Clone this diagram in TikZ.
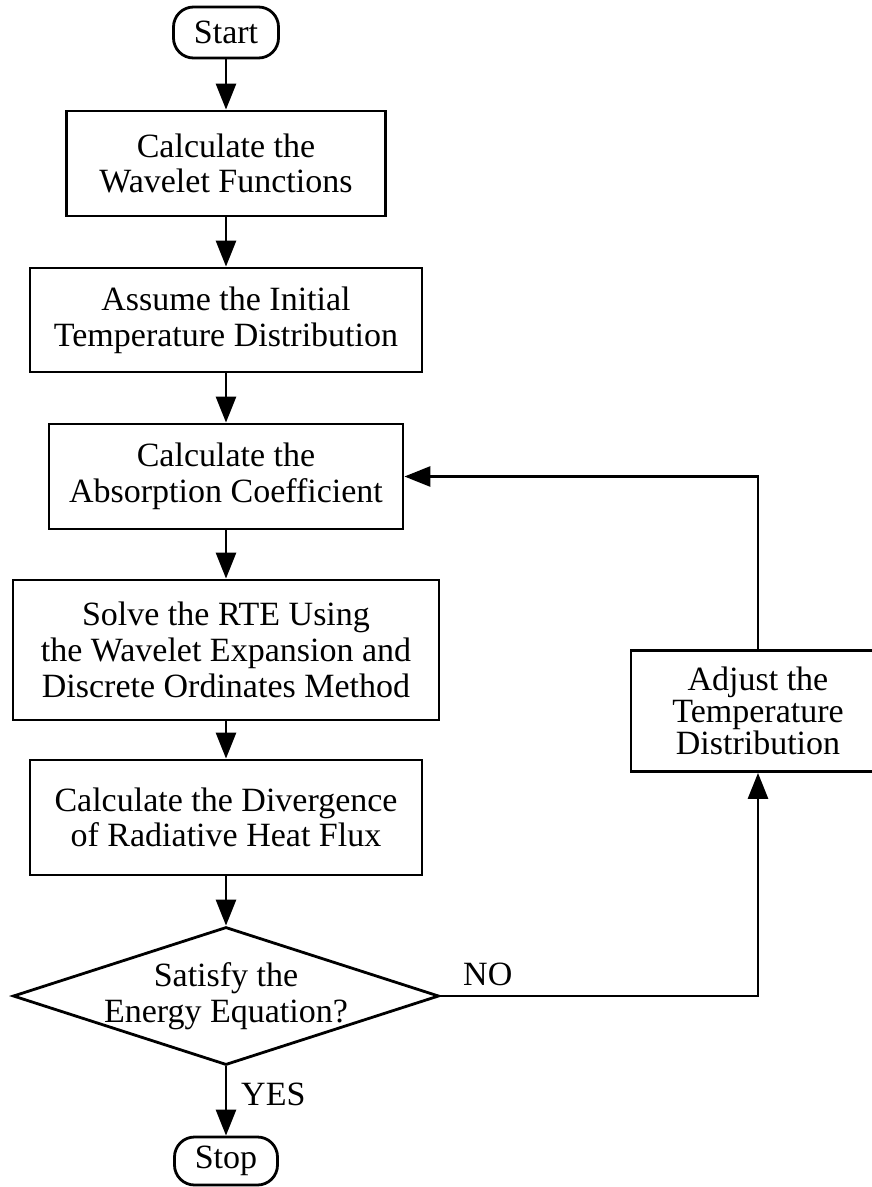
\documentclass[tikz,border=0pt]{standalone}
\usepackage{fontspec}
\setmainfont{Liberation Serif}
\usetikzlibrary{arrows.meta,shapes.geometric}
\begin{document}
\begin{tikzpicture}[x=1pt,y=-1pt,
  every node/.style={font=\fontsize{34}{35.7}\selectfont, align=center, inner sep=0pt},
  box/.style={draw, line width=2.8pt, rectangle},
  term/.style={draw, line width=2.8pt, rounded corners=20pt},
  decision/.style={draw, line width=2.8pt, diamond, aspect=3.087, inner sep=-30pt},
  flow/.style={line width=2.8pt, -{Triangle[length=26pt,width=20pt]}},
  lbl/.style={anchor=west}
]
\useasboundingbox (0,0) rectangle (872,1187);
\clip (0,0) rectangle (872,1187);

\node[term, minimum width=105pt, minimum height=51pt] (start) at (226,32.5) {Start};
\node[box, minimum width=319pt, minimum height=105pt] (b1) at (226,163.5) {Calculate the\\Wavelet Functions};
\node[box, minimum width=392pt, minimum height=104pt] (b2) at (226,320) {Assume the Initial\\Temperature Distribution};
\node[box, minimum width=354pt, minimum height=105pt] (b3) at (226,476.5) {Calculate the\\Absorption Coefficient};
\node[box, minimum width=426pt, minimum height=140pt] (b4) at (226,650) {Solve the RTE Using\\the Wavelet Expansion and\\Discrete Ordinates Method};
\node[box, minimum width=392pt, minimum height=115pt] (b5) at (226,817.5) {Calculate the Divergence\\of Radiative Heat Flux};
\node[decision, minimum width=426pt, minimum height=138pt] (dia) at (226,996) {Satisfy the\\Energy Equation?};
\node[term, minimum width=103pt, minimum height=48pt] (stop) at (226,1161) {Stop};
\node[box, minimum width=254pt, minimum height=121pt, font=\fontsize{34}{32}\selectfont] (adj) at (758,711) {Adjust the\\Temperature\\Distribution};

\node[lbl] (yes) at (241,1094) {YES};
\node[lbl] (no) at (463,974) {NO};

\draw[flow] (start) -- (b1);
\draw[flow] (b1) -- (b2);
\draw[flow] (b2) -- (b3);
\draw[flow] (b3) -- (b4);
\draw[flow] (b4) -- (b5);
\draw[flow] (b5) -- (dia);
\draw[flow] (dia) -- (stop);
\draw[flow] (dia.east) -| (adj.south);
\draw[flow] (adj.north) |- (b3.east);
\end{tikzpicture}
\end{document}
